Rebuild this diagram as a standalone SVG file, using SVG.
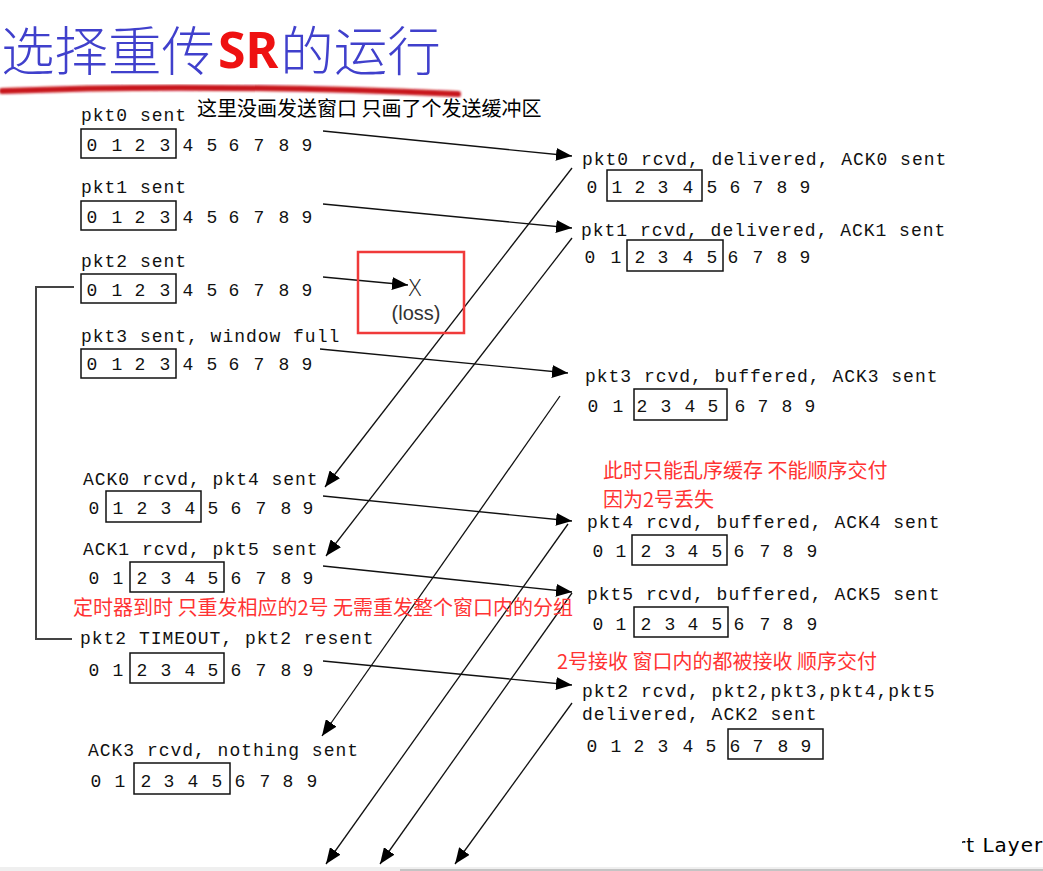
<svg xmlns="http://www.w3.org/2000/svg" width="1043" height="871" viewBox="0 0 1043 871">
<style>
.lbl{font-family:"Liberation Mono","DejaVu Sans Mono",monospace;font-size:18px;letter-spacing:0.98px;fill:#111}
.d{font-family:"Liberation Mono","DejaVu Sans Mono",monospace;font-size:18px;fill:#111;text-anchor:middle}
.win{fill:none;stroke:#111;stroke-width:1.5}
.cn{font-family:"Noto Sans CJK SC","Noto Sans",sans-serif;font-size:20px}
.red{fill:#ff3333}
.ln{fill:none;stroke:#111;stroke-width:1.3}
.fw{marker-end:url(#ah)}
</style>
<defs>
<marker id="ah" markerUnits="userSpaceOnUse" markerWidth="17" markerHeight="13" refX="16" refY="6.5" orient="auto">
<path d="M0,0 L16,6.5 L0,13 z" fill="#000"/>
</marker>
<filter id="soft" x="-5%" y="-50%" width="110%" height="200%"><feGaussianBlur stdDeviation="0.8"/></filter>
<clipPath id="clipL"><rect x="962" y="820" width="81" height="46"/></clipPath>
</defs>
<rect width="1043" height="871" fill="#fff"/>

<g id="title">
<text x="1" y="71" font-family="Noto Sans CJK SC, sans-serif" font-size="53.5" font-weight="300" fill="#4040cc">选择重传<tspan dy="-3" dx="3" fill="#ee1111" font-weight="700" font-size="50" font-family="Noto Sans, Noto Sans CJK SC, sans-serif">SR</tspan><tspan dy="3" dx="2">的运行</tspan></text>
<path d="M2,91 Q200,83 458,94" fill="none" stroke="#c8141e" stroke-width="6" stroke-linecap="round" filter="url(#soft)"/>
</g>

<g id="note">
<text class="cn" x="197" y="116" fill="#000">这里没画发送窗口 只画了个发送缓冲区</text>
</g>

<g id="connectors">
<path class="ln fw" d="M323,131 L572,156"/>
<path class="ln fw" d="M323,204 L572,228"/>
<path class="ln fw" d="M323,277 L408,285"/>
<path class="ln fw" d="M320,349 L568,373"/>
<path class="ln fw" d="M323,496 L572,521"/>
<path class="ln fw" d="M323,566 L572,592"/>
<path class="ln fw" d="M323,661 L572,685"/>
<path class="ln fw" d="M572,168 L325,487"/>
<path class="ln fw" d="M572,238 L326,556"/>
<path class="ln fw" d="M560,396 L322,736"/>
<path class="ln fw" d="M568,524 L326,864"/>
<path class="ln fw" d="M572,593 L380,864"/>
<path class="ln fw" d="M572,703 L455,864"/>
<path d="M74,287 L36,287 L36,639 L72,639" fill="none" stroke="#444" stroke-width="2"/>
</g>

<g id="loss">
<rect x="358" y="252" width="106" height="81" fill="none" stroke="#f03a3a" stroke-width="2.5"/>
<text x="415" y="296" font-family="Open Sans, Inter, sans-serif" font-weight="300" font-size="23" fill="#222" text-anchor="middle">X</text>
<text x="416" y="320" font-family="Liberation Sans, sans-serif" font-size="20" fill="#333" text-anchor="middle">(loss)</text>
</g>

<g id="s-pkt0">
<text class="lbl" x="81" y="121">pkt0 sent</text>
<rect class="win" x="81" y="129" width="95" height="29"/>
<text class="d" x="92 117 140 165 188 212 234 259 284 307" y="151">0123456789</text>
</g>
<g id="s-pkt1">
<text class="lbl" x="81" y="193">pkt1 sent</text>
<rect class="win" x="81" y="201" width="95" height="29"/>
<text class="d" x="92 117 140 165 188 212 234 259 284 307" y="223">0123456789</text>
</g>
<g id="s-pkt2">
<text class="lbl" x="81" y="267">pkt2 sent</text>
<rect class="win" x="81" y="274" width="95" height="29"/>
<text class="d" x="92 117 140 165 188 212 234 259 284 307" y="296">0123456789</text>
</g>
<g id="s-pkt3">
<text class="lbl" x="81" y="342">pkt3 sent, window full</text>
<rect class="win" x="81" y="349" width="95" height="29"/>
<text class="d" x="92 117 140 165 188 212 234 259 284 307" y="370">0123456789</text>
</g>
<g id="s-ack0">
<text class="lbl" x="83" y="485">ACK0 rcvd, pkt4 sent</text>
<rect class="win" x="106" y="491" width="95" height="31"/>
<text class="d" x="94 118 142 166 190 213 236 261 286 308" y="514">0123456789</text>
</g>
<g id="s-ack1">
<text class="lbl" x="83" y="555">ACK1 rcvd, pkt5 sent</text>
<rect class="win" x="130" y="562" width="94" height="30"/>
<text class="d" x="94 118 142 166 190 213 236 261 286 308" y="584">0123456789</text>
</g>
<g id="timer-note">
<text class="cn red" x="73" y="615">定时器到时 只重发相应的2号 无需重发整个窗口内的分组</text>
</g>
<g id="s-timeout">
<text class="lbl" x="80" y="644">pkt2 TIMEOUT, pkt2 resent</text>
<rect class="win" x="130" y="653" width="94" height="30"/>
<text class="d" x="94 118 142 166 190 213 236 261 286 308" y="676">0123456789</text>
</g>
<g id="s-ack3">
<text class="lbl" x="88" y="756">ACK3 rcvd, nothing sent</text>
<rect class="win" x="134" y="763" width="96" height="31"/>
<text class="d" x="96 120 146 169 193 217 240 265 288 312" y="787">0123456789</text>
</g>

<g id="r-pkt0">
<text class="lbl" x="582" y="165">pkt0 rcvd, delivered, ACK0 sent</text>
<rect class="win" x="607" y="170" width="95" height="31"/>
<text class="d" x="592 617 640 663 688 712 735 758 782 805" y="193">0123456789</text>
</g>
<g id="r-pkt1">
<text class="lbl" x="581" y="236">pkt1 rcvd, delivered, ACK1 sent</text>
<rect class="win" x="627" y="240" width="96" height="31"/>
<text class="d" x="590 616 640 663 688 712 733 758 782 805" y="263">0123456789</text>
</g>
<g id="r-pkt3">
<text class="lbl" x="585" y="382">pkt3 rcvd, buffered, ACK3 sent</text>
<rect class="win" x="634" y="389" width="93" height="31"/>
<text class="d" x="593 618 642 666 690 713 740 763 787 810" y="412">0123456789</text>
</g>
<g id="buffer-note">
<text class="cn red" x="603" y="478" font-size="19.5">此时只能乱序缓存 不能顺序交付</text>
<text class="cn red" x="603" y="507" font-size="19.5">因为2号丢失</text>
</g>
<g id="r-pkt4">
<text class="lbl" x="587" y="528">pkt4 rcvd, buffered, ACK4 sent</text>
<rect class="win" x="632" y="535" width="95" height="30"/>
<text class="d" x="598 621 646 670 693 717 739 765 788 812" y="557">0123456789</text>
</g>
<g id="r-pkt5">
<text class="lbl" x="587" y="600">pkt5 rcvd, buffered, ACK5 sent</text>
<rect class="win" x="634" y="607" width="94" height="30"/>
<text class="d" x="598 621 646 670 693 717 739 765 788 812" y="630">0123456789</text>
</g>
<g id="deliver-note">
<text class="cn red" x="557" y="669">2号接收 窗口内的都被接收 顺序交付</text>
</g>
<g id="r-pkt2">
<text class="lbl" x="582" y="697">pkt2 rcvd, pkt2,pkt3,pkt4,pkt5</text>
<text class="lbl" x="582" y="720">delivered, ACK2 sent</text>
<rect class="win" x="728" y="729" width="95" height="30"/>
<text class="d" x="592 616 639 663 688 711 735 758 783 806" y="752">0123456789</text>
</g>

<g id="footer">
<text x="957" y="852" font-family="DejaVu Sans, sans-serif" font-size="20" letter-spacing="1" fill="#000" clip-path="url(#clipL)">rt Layer</text>
<rect x="0" y="867" width="1043" height="4" fill="#efefef"/>
<rect x="400" y="869" width="643" height="2" fill="#c4c4c4"/>
</g>
</svg>
